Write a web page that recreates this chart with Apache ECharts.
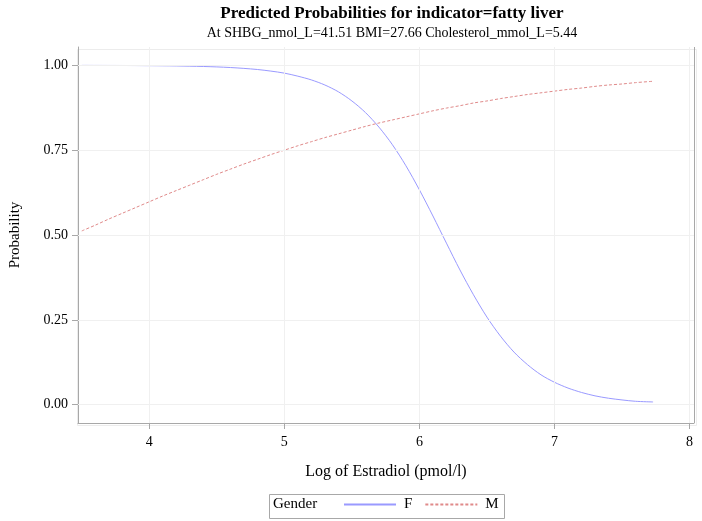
<!DOCTYPE html>
<html>
<head>
<meta charset="utf-8">
<script src="https://cdn.jsdelivr.net/npm/echarts@6/dist/echarts.min.js"></script>
<style>
  html, body { margin: 0; padding: 0; background: #fff; }
  #chart { width: 702px; height: 521px; }
</style>
</head>
<body>
<div id="chart"></div>
<script>
// log of estradiol values where the curves were read
var logEstradiol = [3.5, 3.6, 3.7, 3.8, 3.9, 4.0, 4.1, 4.2, 4.3, 4.4, 4.5, 4.6, 4.7, 4.8, 4.9,
  5.0, 5.1, 5.2, 5.3, 5.4, 5.5, 5.6, 5.7, 5.8, 5.9, 6.0, 6.1, 6.2, 6.3, 6.4, 6.5, 6.6, 6.7, 6.8, 6.9,
  7.0, 7.1, 7.2, 7.3, 7.4, 7.5, 7.6, 7.73];
// predicted probability, Gender = F
var probF = [0.9998, 0.9997, 0.9996, 0.9995, 0.9993, 0.9990, 0.9987, 0.9982, 0.9975, 0.9966, 0.9953, 0.9935, 0.991, 0.9877, 0.983,
  0.977, 0.968, 0.957, 0.942, 0.922, 0.895, 0.861, 0.818, 0.766, 0.704, 0.633, 0.556, 0.476, 0.397, 0.324, 0.258, 0.202, 0.155, 0.118, 0.088,
  0.066, 0.049, 0.036, 0.026, 0.019, 0.014, 0.010, 0.008];
// predicted probability, Gender = M
var probM = [0.512, 0.529, 0.547, 0.564, 0.581, 0.598, 0.615, 0.631, 0.647, 0.663, 0.679, 0.694, 0.709, 0.723, 0.737,
  0.750, 0.763, 0.775, 0.787, 0.798, 0.809, 0.820, 0.830, 0.839, 0.848, 0.857, 0.866, 0.874, 0.881, 0.889, 0.895, 0.902, 0.908, 0.914, 0.919,
  0.924, 0.929, 0.933, 0.938, 0.942, 0.945, 0.949, 0.953];

var xTicks = [4, 5, 6, 7, 8];
var yTicks = [0, 0.25, 0.5, 0.75, 1];

function pairs(xs, ys) {
  var out = [];
  for (var i = 0; i < xs.length; i++) out.push([xs[i], ys[i]]);
  return out;
}

var serif = '"Liberation Serif", "DejaVu Serif", serif';
var axisGray = '#a8a8a8';
var gridGray = '#f0f0f0';

var chart = echarts.init(document.getElementById('chart'));
chart.setOption({
  animation: false,
  backgroundColor: '#fff',
  textStyle: { fontFamily: serif },
  title: [{
    text: 'Predicted Probabilities for indicator=fatty liver',
    left: 387, top: 0, textAlign: 'center',
    textStyle: { fontFamily: serif, fontWeight: 'bold', fontSize: 17, color: '#000' }
  }, {
    text: 'At SHBG_nmol_L=41.51 BMI=27.66 Cholesterol_mmol_L=5.44',
    left: 387, top: 21, textAlign: 'center',
    textStyle: { fontFamily: serif, fontWeight: 'normal', fontSize: 14, color: '#000' }
  }],
  grid: { left: 75, right: 8, top: 47, bottom: 98 },
  xAxis: {
    type: 'value', min: 3.472, max: 8.033,
    name: 'Log of Estradiol (pmol/l)', nameLocation: 'middle', nameGap: 41,
    nameTextStyle: { fontFamily: serif, fontSize: 16, color: '#000' },
    axisLine: { show: true, onZero: false, lineStyle: { color: axisGray } },
    axisTick: { show: true, length: 6, lineStyle: { color: axisGray }, customValues: xTicks },
    axisLabel: { color: '#000', fontSize: 14, fontFamily: serif, margin: 12, customValues: xTicks },
    splitLine: { show: false }
  },
  yAxis: {
    type: 'value', min: -0.054, max: 1.054,
    name: 'Probability', nameLocation: 'middle', nameGap: 55,
    nameTextStyle: { fontFamily: serif, fontSize: 15, color: '#000' },
    axisLine: { show: true, onZero: false, lineStyle: { color: axisGray } },
    axisTick: { show: true, length: 6, lineStyle: { color: axisGray }, customValues: yTicks },
    axisLabel: { color: '#000', fontSize: 14, fontFamily: serif, margin: 10, customValues: yTicks,
      formatter: function (v) { return v.toFixed(2); } },
    splitLine: { show: false }
  },
  legend: {
    left: 343, top: 497, padding: 0, itemWidth: 52, itemHeight: 14, itemGap: 12,
    itemStyle: { opacity: 0 },
    textStyle: { fontFamily: serif, fontSize: 15, color: '#000', padding: [0, 0, 0, 3] },
    data: ['F', 'M']
  },
  graphic: [{
    type: 'rect', left: 267, top: 492, shape: { width: 235, height: 24 },
    style: { fill: 'none', stroke: '#a8a8a8', lineWidth: 1 }
  }, {
    type: 'text', left: 273, top: 497,
    style: { text: 'Gender', font: '15px ' + serif, fill: '#000' }
  }, {
    type: 'rect', left: 75, top: 47, shape: { width: 619, height: 376 },
    style: { fill: 'none', stroke: '#ececec', lineWidth: 1 }, silent: true, z: -1
  }, {
    type: 'line', shape: { x1: 694.5, y1: 47, x2: 694.5, y2: 423 },
    style: { stroke: axisGray, lineWidth: 1 }, silent: true
  }],
  series: [{
    name: 'F', type: 'line', smooth: 0.3, showSymbol: false, symbol: 'none',
    data: pairs(logEstradiol, probF),
    lineStyle: { color: '#9a9aff', width: 1, type: 'solid' },
    itemStyle: { color: '#9a9aff' },
    markLine: {
      silent: true, symbol: 'none', label: { show: false },
      lineStyle: { color: gridGray, width: 1, type: 'solid' },
      data: xTicks.map(function (v) { return { xAxis: v }; })
        .concat(yTicks.map(function (v) { return { yAxis: v }; }))
    },
    z: 3
  }, {
    name: 'M', type: 'line', smooth: 0.3, showSymbol: false, symbol: 'none',
    data: pairs(logEstradiol, probM),
    lineStyle: { color: '#e08a8a', width: 1, type: [3, 2] },
    itemStyle: { color: '#e08a8a' },
    z: 3
  }]
});
</script>
</body>
</html>
